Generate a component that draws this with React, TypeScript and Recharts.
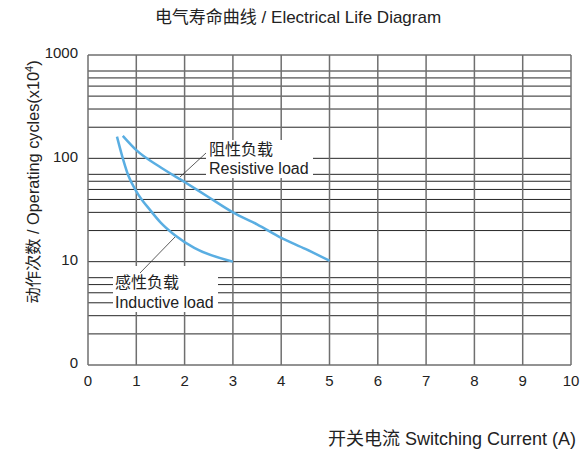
import React from "react";
import { LineChart, Line, XAxis, YAxis, CartesianGrid } from "recharts";

const xTicks = [0, 1, 2, 3, 4, 5, 6, 7, 8, 9, 10];
const yTicks = [1, 10, 100, 1000];
const yTickLabels: Record<number, string> = { 1: "0", 10: "10", 100: "100", 1000: "1000" };
const gridY = [
  1, 2, 3, 4, 5, 6, 7, 8, 9, 10, 20, 30, 40, 50, 60, 70, 80, 90, 100, 200, 300, 400, 500, 600, 700, 800, 900, 1000,
];

const resistiveX = [0.72, 1, 1.5, 2, 2.5, 3, 3.5, 4, 4.5, 5];
const resistiveY = [165, 120, 82, 59, 42, 30, 23, 17, 13.3, 10.2];

const inductiveX = [0.6, 0.7, 0.83, 1, 1.3, 1.5, 1.8, 2.2, 3];
const inductiveY = [162, 108, 69, 48, 31, 24, 18, 13.6, 10];

const resistiveData = resistiveX.map((x, i) => ({ x, y: resistiveY[i] }));
const inductiveData = inductiveX.map((x, i) => ({ x, y: inductiveY[i] }));

const FONT = '"Liberation Sans", Arial, "Noto Sans CJK SC", sans-serif';
const CURVE = "#5aaee2";

export default function App() {
  return (
    <div style={{ position: "absolute", left: 0, top: 0, width: 582, height: 453, background: "#fff", fontFamily: FONT, overflow: "hidden" }}>
      <LineChart width={582} height={453} margin={{ top: 55, right: 11, bottom: 58, left: 48 }}>
        <CartesianGrid vertical={false} horizontalValues={gridY} stroke="#262626" strokeWidth={1} />
        <CartesianGrid horizontal={false} verticalValues={xTicks} stroke="#6f6f6f" strokeWidth={1.5} />
        <XAxis
          dataKey="x"
          type="number"
          domain={[0, 10]}
          ticks={xTicks}
          height={30}
          axisLine={false}
          tickLine={false}
          tickSize={0}
          tickMargin={10}
          allowDataOverflow
          tick={{ fill: "#222", fontSize: 15, fontFamily: FONT }}
        />
        <YAxis
          dataKey="y"
          type="number"
          scale="log"
          domain={[1, 1000]}
          ticks={yTicks}
          width={40}
          axisLine={false}
          tickLine={false}
          tickSize={0}
          tickMargin={10}
          allowDataOverflow
          tickFormatter={(v: number) => yTickLabels[v] ?? ""}
          tick={{ fill: "#222", fontSize: 15, fontFamily: FONT, dy: -2 }}
        />
        <Line data={resistiveData} dataKey="y" type="monotone" stroke={CURVE} strokeWidth={2.5} dot={false} isAnimationActive={false} />
        <Line data={inductiveData} dataKey="y" type="monotone" stroke={CURVE} strokeWidth={2.5} dot={false} isAnimationActive={false} />
      </LineChart>
      <svg width={582} height={453} style={{ position: "absolute", left: 0, top: 0, pointerEvents: "none" }} fontFamily={FONT}>
        <text x={298} y={23} textAnchor="middle" fontSize={17} fill="#222">电气寿命曲线 / Electrical Life Diagram</text>
        <text transform="translate(39,182) rotate(-90)" textAnchor="middle" fontSize={16.3} fill="#222">
          动作次数 / Operating cycles(x10<tspan dy={-6} fontSize={11}>4</tspan><tspan dy={6}>)</tspan>
        </text>
        <text x={328} y={445} fontSize={18} fill="#222">开关电流 Switching Current (A)</text>

        <rect x={206} y={140} width={107} height={38} fill="#fff" />
        <line x1={180} y1={177} x2={206} y2={153} stroke="#333" strokeWidth={0.8} />
        <text x={209} y={155} fontSize={16} fill="#222">阻性负载</text>
        <text x={209} y={174} fontSize={16} fill="#222">Resistive load</text>

        <rect x={113} y={266} width={105} height={46} fill="#fff" />
        <line x1={140} y1={273} x2={175} y2={237} stroke="#333" strokeWidth={0.8} />
        <text x={115} y={288} fontSize={16} fill="#222">感性负载</text>
        <text x={115} y={308} fontSize={16} fill="#222">Inductive load</text>
      </svg>
    </div>
  );
}
